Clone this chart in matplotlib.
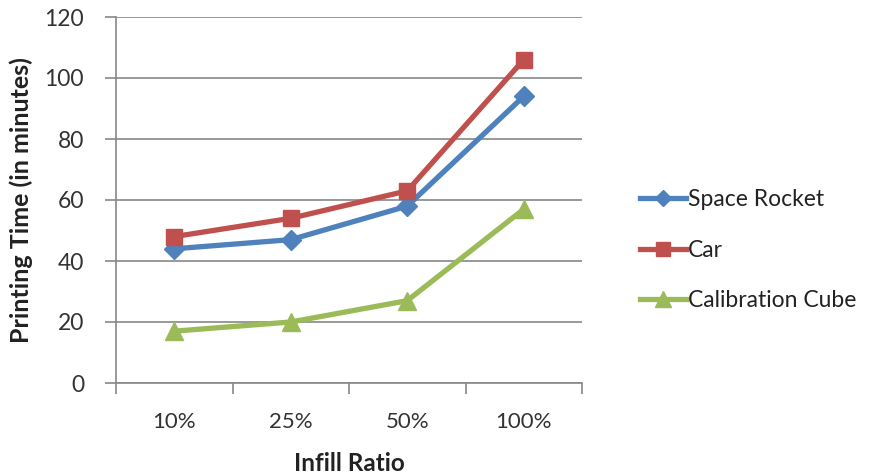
import matplotlib.pyplot as plt
import numpy as np

plt.rcParams['font.family'] = ['Lato', 'DejaVu Sans']

categories = ['10%', '25%', '50%', '100%']
space_rocket = [44, 47, 58, 94]
car = [48, 54, 63, 106]
calibration_cube = [17, 20, 27, 57]

fig = plt.figure(figsize=(8.75, 4.75), dpi=100)
ax = fig.add_axes([116 / 875, 92 / 475, 466 / 875, 366 / 475])

x = np.arange(len(categories))
ax.plot(x, space_rocket, color='#4F81BD', lw=3.8, marker='D', ms=10, label='Space Rocket')
ax.plot(x, car, color='#C0504D', lw=3.8, marker='s', ms=12, label='Car')
ax.plot(x, calibration_cube, color='#9BBB59', lw=3.8, marker='^', ms=13, label='Calibration Cube')

ax.set_xlim(-0.5, len(categories) - 0.5)
ax.set_ylim(0, 120)
ax.set_yticks(range(0, 121, 20))
ax.set_xticks(x)
ax.set_xticklabels(categories)
ax.set_xticks(np.arange(-0.5, len(categories), 1), minor=True)
ax.tick_params(axis='x', which='major', length=0, pad=21, labelsize=16, colors='#333333')
ax.tick_params(axis='x', which='minor', length=8, width=1.2, color='#888888', direction='out')
ax.tick_params(axis='y', length=8, width=1.2, color='#888888', labelsize=16.5, labelcolor='#333333', pad=15)

ax.grid(axis='y', color='#888888', lw=1.2)
ax.set_axisbelow(True)
for side in ['top', 'right']:
    ax.spines[side].set_visible(False)
for side in ['left', 'bottom']:
    ax.spines[side].set_color('#888888')
    ax.spines[side].set_linewidth(1.2)

ax.set_xlabel('Infill Ratio', fontsize=17.5, fontweight='bold', color='#222222', labelpad=14)
ax.set_ylabel('Printing Time (in minutes)', fontsize=18, fontweight='bold', color='#222222', labelpad=8)

leg = ax.legend(loc='center left', bbox_to_anchor=(1.08, 0.363), frameon=False, fontsize=16.5,
                handlelength=2.0, handletextpad=0.1, labelspacing=1.3, markerscale=0.85)
for t in leg.get_texts():
    t.set_color('#222222')

fig.savefig('out.png', dpi=100)
